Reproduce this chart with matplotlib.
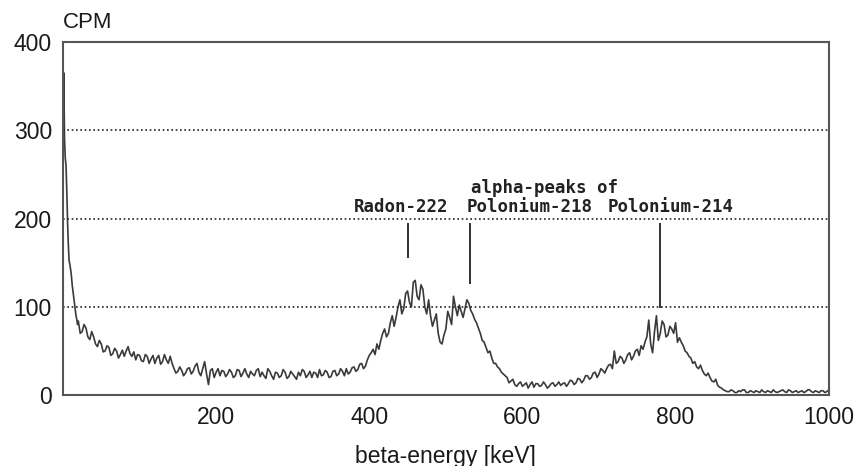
import numpy as np
import matplotlib
matplotlib.use("Agg")
import matplotlib.pyplot as plt

# fine sampling of the low-energy spike
head_kev = [0.3, 1, 2, 3, 4, 5, 6, 7, 8, 9, 10, 11, 12, 13, 14, 15, 16, 17, 18, 19]
head_cpm = [300, 365, 290, 268, 260, 230, 195, 170, 152, 148, 142, 135, 125, 118, 112, 104, 96, 90, 86, 80]

# spectrum read at 5 keV steps from 20 to 1000
spec_kev = list(range(20, 1001, 5))
spec_cpm = [
    84, 72, 76, 63, 66, 55, 58, 50, 54, 47, 50, 46, 44, 55, 44, 40, 45, 38, 44, 41,   # 20-115
    36, 45, 38, 40, 44, 30, 27, 28, 25, 31, 27, 36, 22, 38, 12, 30, 26, 22, 27, 24,   # 120-215
    26, 22, 28, 25, 24, 27, 22, 30, 26, 19, 27, 18, 25, 22, 26, 21, 24, 18, 22, 27,   # 220-315
    23, 20, 25, 29, 23, 26, 21, 28, 24, 27, 30, 26, 32, 29, 36, 33, 45, 52, 58, 62,   # 320-415
    75, 70, 90, 88, 108, 98, 118, 100, 130, 108, 120, 92, 90, 85, 70, 58, 75, 88, 112, 90,   # 420-515
    95, 98, 104, 92, 82, 70, 60, 48, 42, 36, 30, 24, 20, 16, 12, 13, 10, 14, 12, 9,   # 520-615
    13, 11, 12, 10, 14, 12, 11, 14, 13, 16, 14, 18, 17, 22, 20, 26, 24, 28, 30, 35,   # 620-715
    50, 38, 42, 40, 48, 44, 52, 56, 60, 85, 48, 90, 70, 80, 68, 75, 82, 65, 56, 48,   # 720-815
    42, 38, 30, 28, 22, 20, 15, 11, 8, 5, 4, 5, 3, 4, 6, 3, 4, 5, 3, 4,               # 820-915
    5, 3, 4, 4, 6, 3, 5, 4, 3, 5, 4, 6, 3, 4, 5, 3, 6,                                # 920-1000
]

# in-between readings at 22.5, 27.5, ... 997.5 keV (the channel-to-channel jitter)
mid_kev = [k + 2.5 for k in range(20, 1000, 5)]
mid_cpm = [
    70, 80, 66, 72, 58, 62, 49, 56, 45, 53, 42, 51, 50, 47, 49, 46, 39, 46, 36, 45,
    42, 35, 46, 36, 36, 25, 32, 22, 30, 24, 33, 26, 30, 24, 28, 20, 30, 28, 21, 29,
    20, 29, 21, 30, 20, 24, 28, 21, 22, 30, 22, 26, 20, 29, 19, 27, 21, 26, 29, 20,
    27, 26, 20, 22, 28, 20, 27, 22, 30, 22, 24, 31, 27, 35, 30, 40, 48, 46, 52, 70,
    66, 82, 78, 100, 92, 115, 105, 128, 112, 125, 100, 108, 78, 92, 60, 68, 95, 80, 100, 102,
    88, 108, 96, 86, 76, 62, 54, 50, 36, 32, 26, 22, 14, 18, 10, 15, 12, 8, 15, 13,
    10, 15, 8, 13, 10, 15, 13, 10, 17, 12, 19, 14, 22, 18, 25, 20, 30, 25, 34, 30,
    36, 44, 36, 46, 40, 50, 45, 52, 66, 58, 72, 62, 84, 66, 78, 70, 60, 60, 50, 44,
    36, 32, 34, 24, 25, 16, 18, 9, 6, 4, 6, 3, 5, 6, 3, 5, 3, 4, 6, 3,
    4, 6, 3, 5, 4, 6, 3, 5, 4, 3, 6, 4, 5, 3, 5, 4,
]

kev = np.array(head_kev + spec_kev + mid_kev, dtype=float)
cpm = np.array(head_cpm + spec_cpm + mid_cpm, dtype=float)
order = np.argsort(kev)
kev, cpm = kev[order], cpm[order]

y_ticks = [0, 100, 200, 300, 400]
x_ticks = [200, 400, 600, 800, 1000]

# (label, x, y) and marker lines (x, y_low, y_high)
labels = [("Radon-222", 441, 213), ("Polonium-218", 609, 213),
          ("Polonium-214", 794, 213), ("alpha-peaks of", 629, 235)]
markers = [(450, 155, 195), (532, 126, 195), (780, 99, 195)]

plt.rcParams["font.family"] = ["Liberation Sans", "DejaVu Sans"]

fig = plt.figure(figsize=(8.57, 4.66), dpi=100)
ax = fig.add_axes([0.0735, 0.152, 0.8935, 0.758])

ax.plot(kev, cpm, color="#3a3a3a", linewidth=1.2)

for x, y0, y1 in markers:
    ax.vlines(x, y0, y1, color="#222222", linewidth=1.3)

for text, x, y in labels:
    ax.text(x, y, text, ha="center", va="center", fontsize=12.5,
            family="DejaVu Sans Mono", fontweight="bold", color="#222222")

ax.set_xlim(0, 1000)
ax.set_ylim(0, 400)
ax.set_xticks(x_ticks)
ax.set_yticks(y_ticks)
ax.tick_params(length=0, labelsize=16.5, colors="#1a1a1a")
ax.tick_params(axis="y", pad=8)
ax.tick_params(axis="x", pad=8)

for y in [100, 200, 300]:
    ax.axhline(y, color="#222222", linewidth=1.2, linestyle=(0, (1, 1.6)))

for s in ax.spines.values():
    s.set_color("#555555")
    s.set_linewidth(1.5)

fig.text(63 / 857, 1 - 22 / 466, "CPM", fontsize=16, va="center", ha="left", color="#1a1a1a")
fig.text(445 / 857, 1 - 456 / 466, "beta-energy [keV]", fontsize=16.5, va="center", ha="center",
         color="#1a1a1a")

fig.savefig("out.png", dpi=100)
